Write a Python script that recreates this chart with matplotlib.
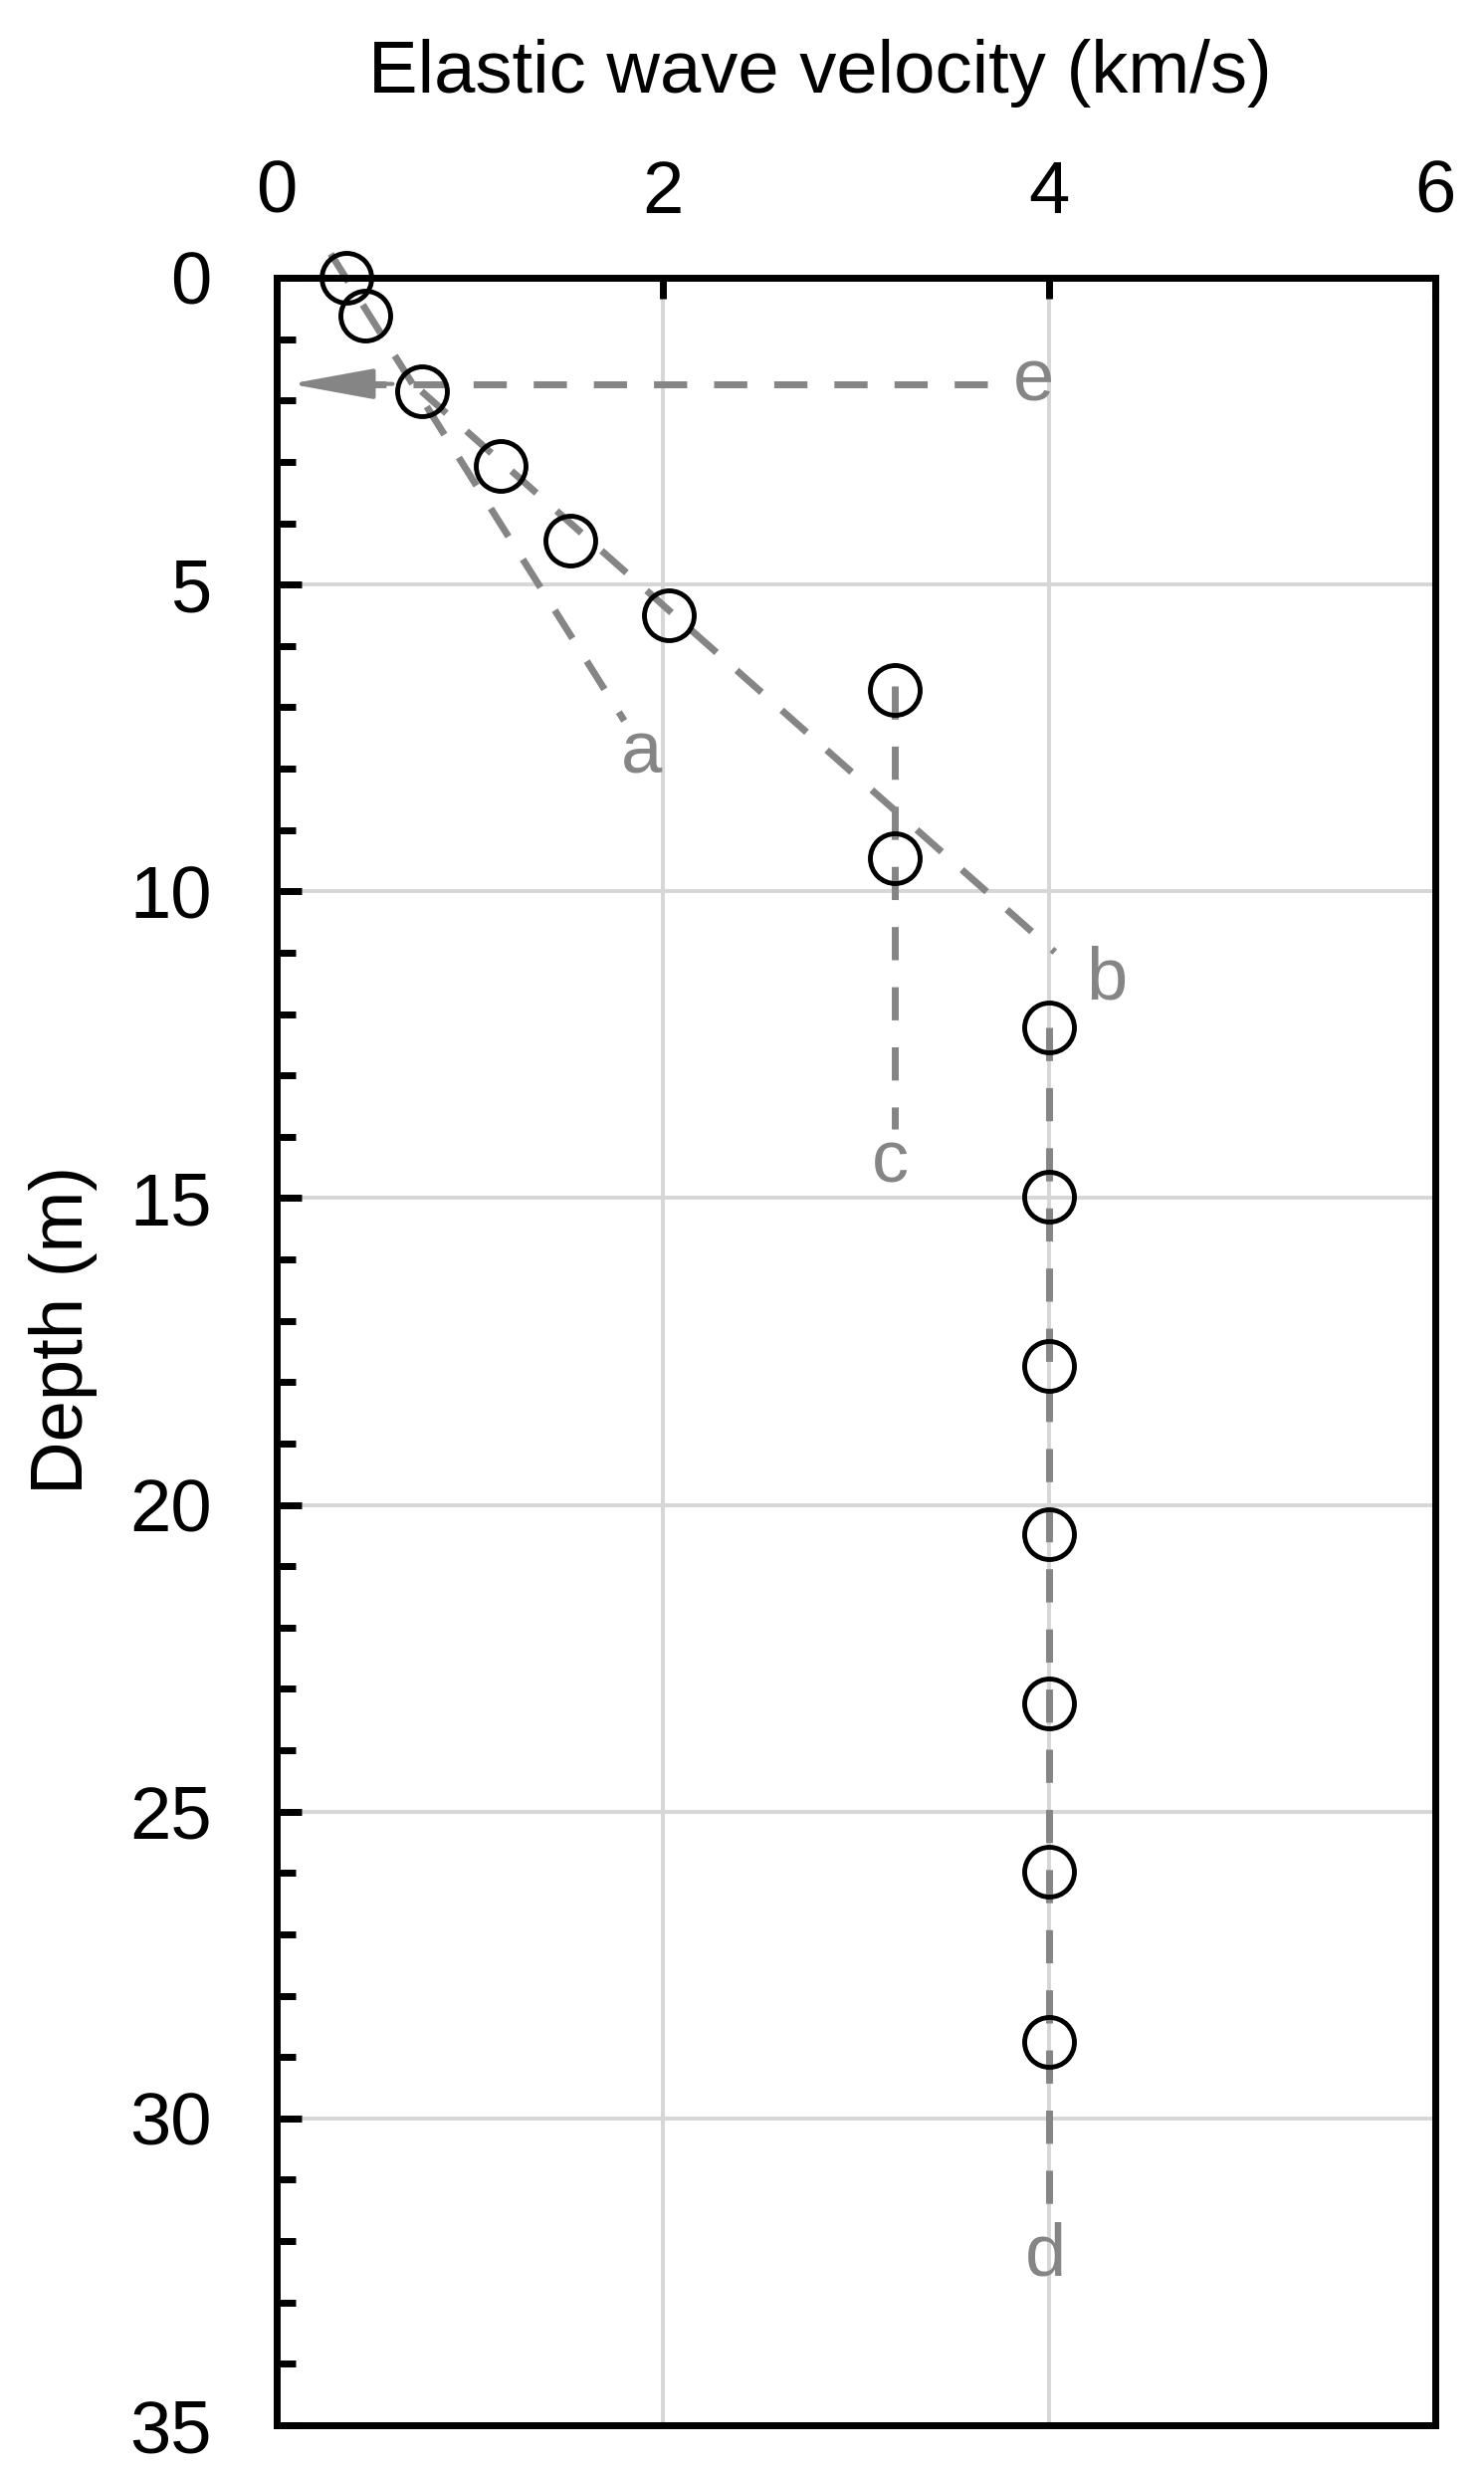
import matplotlib
matplotlib.use("Agg")
import matplotlib.pyplot as plt
from matplotlib.ticker import MultipleLocator

plt.rcParams["font.family"] = ["Liberation Sans", "DejaVu Sans"]

# measured points: depth (m) and elastic wave velocity (km/s)
DEPTH = [0.0, 0.62, 1.85, 3.07, 4.29, 5.5, 6.72, 9.46,
         12.22, 14.98, 17.73, 20.48, 23.23, 25.98, 28.75]
VELOCITY = [0.36, 0.46, 0.75, 1.16, 1.52, 2.03, 3.2, 3.2,
            4.0, 4.0, 4.0, 4.0, 4.0, 4.0, 4.0]

# guide lines (velocity, depth) and their labels
LINE_A = ([0.28, 1.80], [-0.39, 7.22])
LINE_B = ([0.75, 4.03], [1.85, 10.99])
LINE_C = ([3.2, 3.2], [6.65, 13.88])
LINE_D = ([4.0, 4.0], [12.22, 31.48])
LINE_E = ([3.68, 0.50], [1.73, 1.73])
ARROW_TIP = (0.07, 1.73)

LABELS = ["a", "b", "c", "d", "e"]
LABEL_VEL = [1.89, 4.30, 3.18, 3.98, 3.92]
LABEL_DEPTH = [8.08, 11.76, 14.74, 32.56, 2.01]

X_TICKS = [0, 2, 4, 6]
Y_TICKS = [0, 5, 10, 15, 20, 25, 30, 35]

GREY = "#858585"
GRID = "#d6d6d6"
FS = 53.5

fig = plt.figure(figsize=(14.91, 24.81), dpi=100)
W, H = 1491, 2481
ax = fig.add_axes([278 / W, 1 - 2436 / H, (1442 - 278) / W, (2436 - 279) / H])

ax.set_xlim(0, 6)
ax.set_ylim(35, 0)
ax.xaxis.tick_top()
ax.set_xticks(X_TICKS)
ax.set_yticks(Y_TICKS)
ax.yaxis.set_minor_locator(MultipleLocator(1))

ax.grid(True, which="major", color=GRID, linewidth=2.8)
ax.set_axisbelow(True)

for s in ax.spines.values():
    s.set_linewidth(5)
    s.set_zorder(5)

ax.tick_params(axis="x", which="major", direction="in", length=15, width=5,
               pad=36, labelsize=FS, bottom=False, top=True)
ax.tick_params(axis="y", which="major", direction="in", length=18, width=5,
               pad=47, labelsize=FS, right=False)
ax.tick_params(axis="y", which="minor", direction="in", length=14, width=5,
               right=False)

dash = dict(color=GREY, linewidth=5, dashes=(4.8, 3.9), clip_on=False,
            zorder=3)
for vel, dep in [LINE_A, LINE_B, LINE_C, LINE_D, LINE_E]:
    ax.plot(vel, dep, **dash)

ax.annotate("", xy=ARROW_TIP, xytext=(LINE_E[0][1] + 0.1, LINE_E[1][1]),
            arrowprops=dict(arrowstyle="-|>,head_length=52,head_width=9.5",
                            mutation_scale=1, color=GREY, lw=3,
                            shrinkA=0, shrinkB=0),
            zorder=3)

ax.plot(VELOCITY, DEPTH, linestyle="none", marker="o", markersize=36,
        markerfacecolor="none", markeredgecolor="black",
        markeredgewidth=3.5, clip_on=False, zorder=4)

for lab, v, d in zip(LABELS, LABEL_VEL, LABEL_DEPTH):
    ax.text(v, d, lab, color=GREY, fontsize=FS, ha="center", va="baseline",
            zorder=4)

fig.text(824 / W, 1 - 93 / H, "Elastic wave velocity (km/s)", fontsize=FS,
         ha="center", va="baseline")
fig.text(63 / W, 1 - 1336 / H, "Depth (m)", fontsize=FS, rotation=90,
         ha="center", va="center")

fig.savefig("out.png", dpi=100)
